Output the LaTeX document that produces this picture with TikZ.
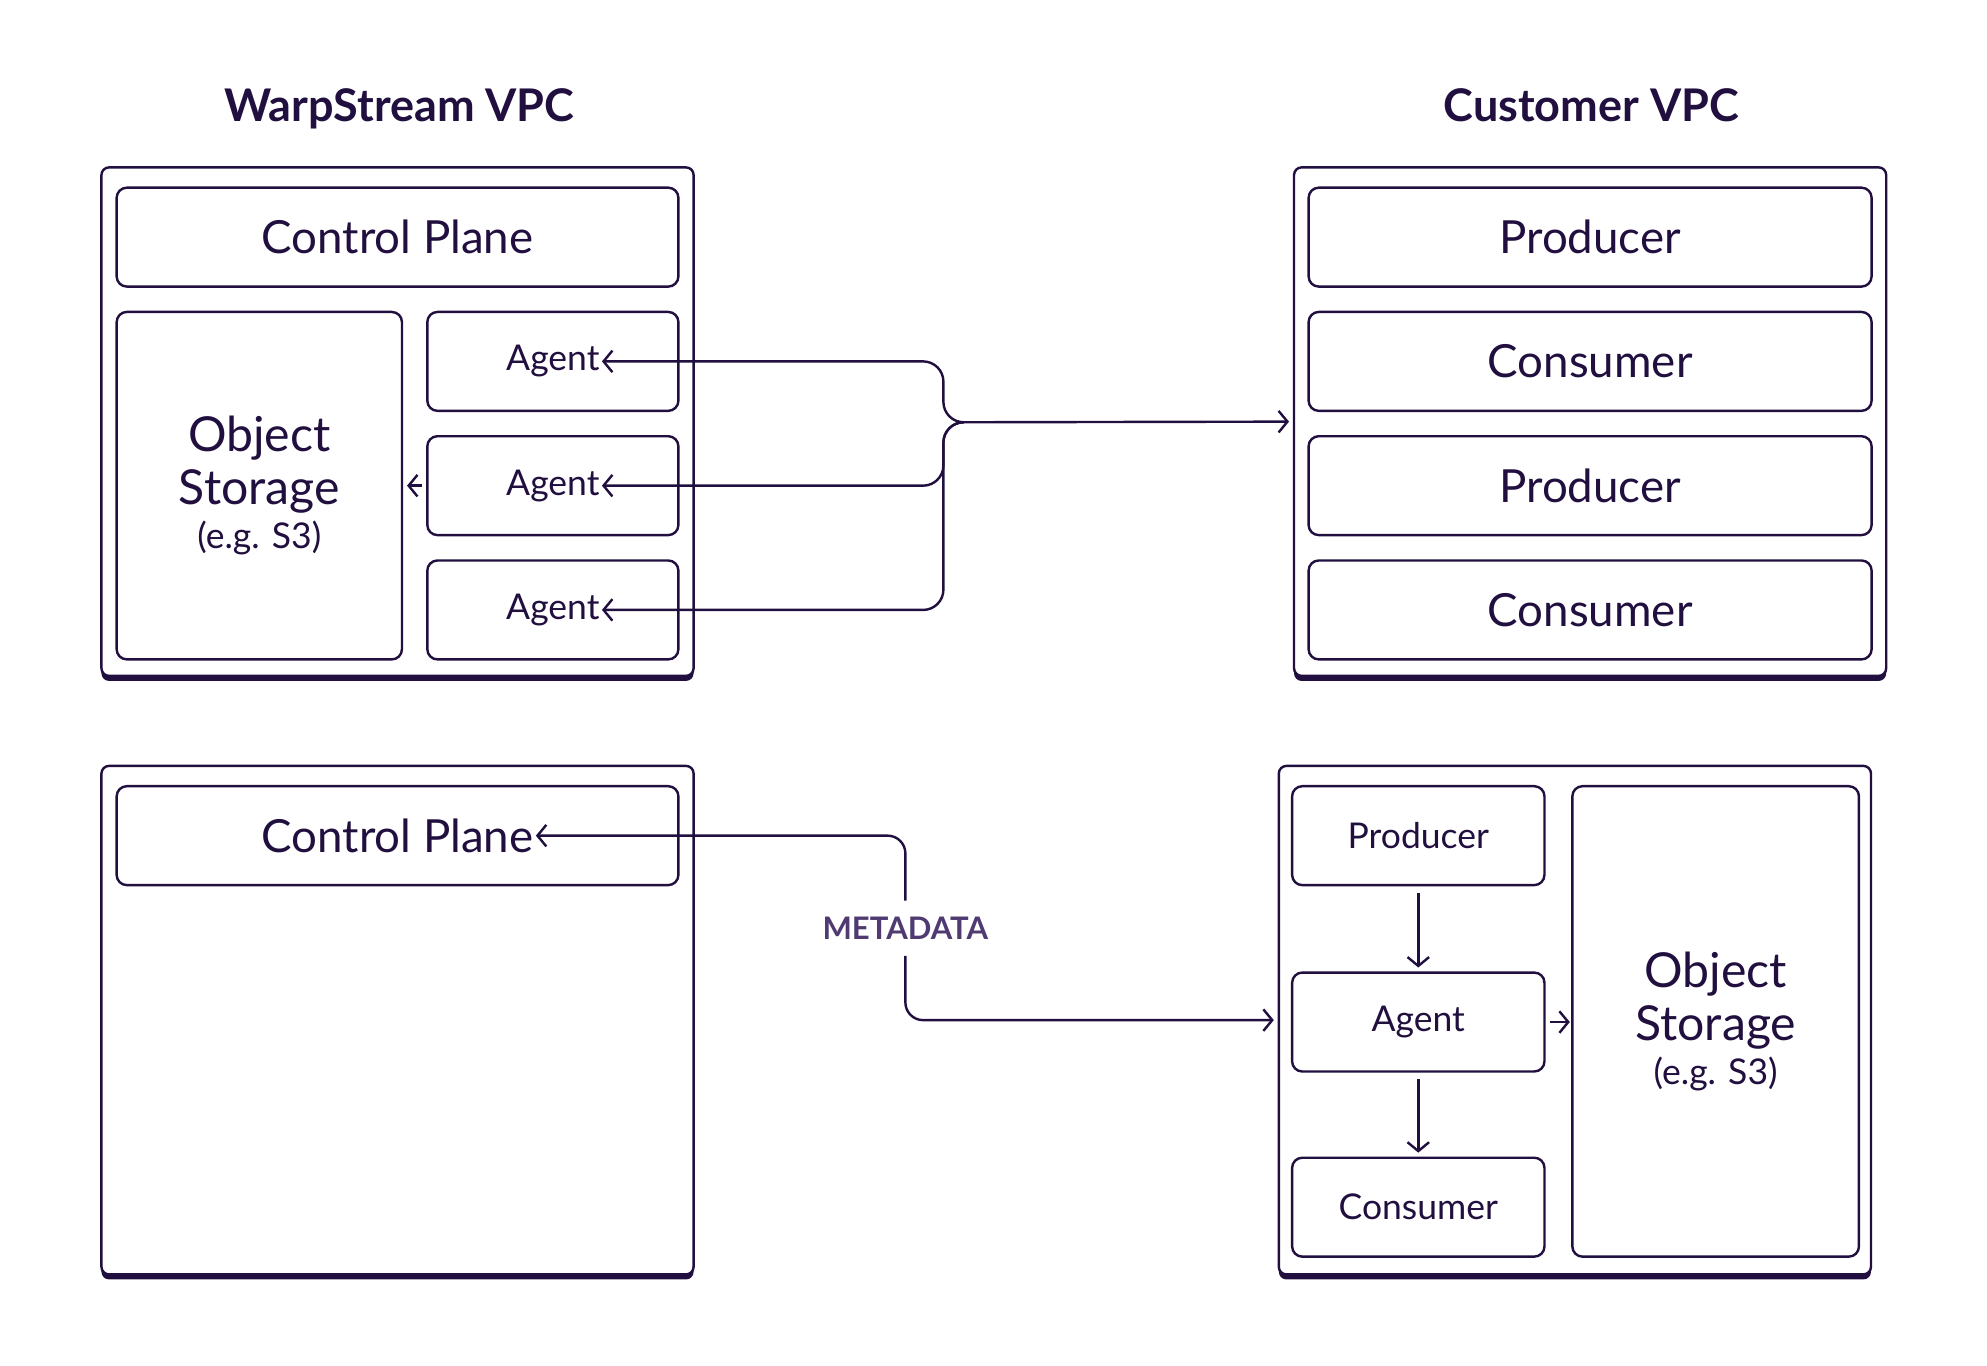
\documentclass[tikz,border=0pt]{standalone}
\usepackage{fontspec}
\setmainfont{Lato}
\usetikzlibrary{arrows.meta,positioning,shadows}

\definecolor{ink}{HTML}{21103F}
\definecolor{metaink}{HTML}{4F3B72}

\begin{document}
\begin{tikzpicture}[x=1pt,y=-1pt,>={Straight Barb[length=7pt,width=17pt]},line width=1.9pt,color=ink,
    vpc/.style={draw,rounded corners=6pt,fill=white,minimum width=467pt,minimum height=401pt,general shadow={fill=ink,shadow yshift=-4pt}},
    box/.style={draw,rounded corners=8pt,fill=white,minimum width=#1,minimum height=78pt,inner sep=0pt,outer sep=0pt,align=center},
    title/.style={font=\fontsize{35.5}{40}\selectfont\bfseries},
    big/.style={font=\fontsize{36}{40}\selectfont},
    store/.style={font=\fontsize{38}{42}\selectfont},
    small/.style={font=\fontsize{28}{32}\selectfont},
    txt/.style={inner sep=1pt},
    metalabel/.style={font=\fontsize{24.5}{28}\selectfont\bfseries,text=metaink,inner sep=12pt}]

  \useasboundingbox (0,0) rectangle (1567,1077);

  % VPC frames
  \node[vpc] (wsv) at (313.5,332.5) {};
  \node[vpc] (cv) at (1254,332.5) {};
  \node[vpc] (wsv2) at (313.5,804.5) {};
  \node[vpc] (cv2) at (1242,804.5) {};

  \node[title,anchor=base] (wstitle) at (315,96) {WarpStream VPC};
  \node[title,anchor=base] (cvtitle) at (1255,96) {Customer VPC};

  % WarpStream VPC, top
  \node[box=443pt,big] (cp) at (313.5,187) {Control Plane};
  \node[box=225pt,minimum height=274pt,store,below=20pt of cp.south west,anchor=north west] (os)
    {Object\\Storage\\[-7pt]{\fontsize{28}{32}\selectfont(e.g. S3)}};
  \node[box=198pt,below=20pt of cp.south east,anchor=north east] (ag1) {};
  \node[box=198pt,below=20pt of ag1] (ag2) {};
  \node[box=198pt,below=20pt of ag2] (ag3) {};
  \foreach \i in {1,2,3}
    \node[small,txt] (agtxt\i) at (ag\i) {Agent};

  % Customer VPC, top
  \node[box=444pt,big] (pr1) at (1254,187) {Producer};
  \node[box=444pt,big,below=20pt of pr1] (co1) {Consumer};
  \node[box=444pt,big,below=20pt of co1] (pr2) {Producer};
  \node[box=444pt,big,below=20pt of pr2] (co2) {Consumer};

  \coordinate (hub) at (760,333);
  \foreach \i in {1,2,3}
    \draw[->,rounded corners=16pt] (hub) -- ++(-16,0) |- (agtxt\i.east);
  \draw[->,shorten >=3pt] (hub) -- (cv.west);
  \draw[->,shorten <=4pt,shorten >=4pt] (ag2.west) -- (os.east);

  % WarpStream VPC, bottom
  \node[box=443pt] (cp2) at (313.5,659) {};
  \node[big,txt] (cptxt) at (cp2) {Control Plane};

  % Customer VPC, bottom
  \node[box=199pt,small] (bpr) at (1118.5,659) {Producer};
  \node[box=199pt,small,below=69pt of bpr] (bag) {Agent};
  \node[box=199pt,small,below=68pt of bag] (bco) {Consumer};
  \node[box=226pt,minimum height=371pt,store] (bos) at (1353,805.5)
    {Object\\Storage\\[-7pt]{\fontsize{28}{32}\selectfont(e.g. S3)}};

  \node[metalabel] (meta) at (714,732) {METADATA};
  \draw[<-,rounded corners=14pt] (cptxt.east) -| (meta.north);
  \draw[->,rounded corners=14pt,shorten >=3pt] (meta.south) |- (cv2.west);

  \draw[->,shorten <=6pt,shorten >=4pt] (bpr) -- (bag);
  \draw[->,shorten <=6pt,shorten >=4pt] (bag) -- (bco);
  \draw[->,shorten <=4pt,shorten >=2pt] (bag.east) -- (bag.east -| bos.west);

\end{tikzpicture}
\end{document}
